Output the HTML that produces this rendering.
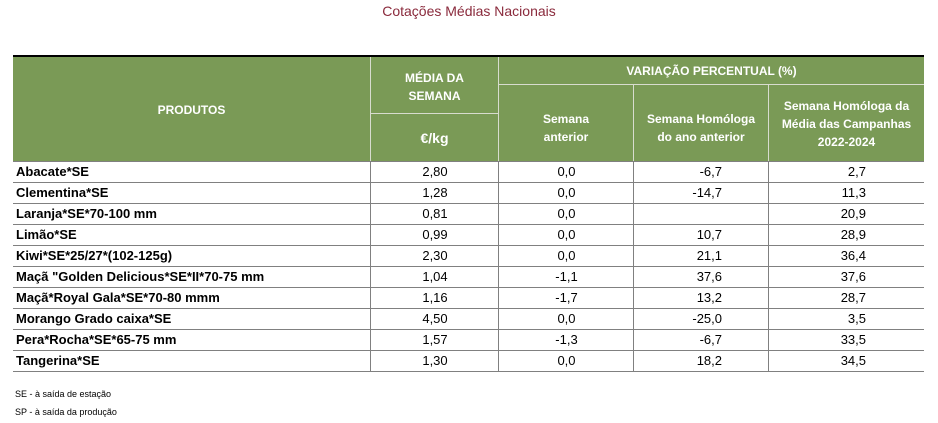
<!DOCTYPE html>
<html><head><meta charset="utf-8"><style>
body{margin:0;width:938px;height:423px;background:#fff;position:relative;overflow:hidden;font-family:"Liberation Sans",Arial,sans-serif}
.a{position:absolute}
.title{left:0;width:938px;top:3px;text-align:center;color:#8a2a3c;font-size:14px}
.hd{background:#7a9a56;color:#fff;font-weight:bold;font-size:12px;display:flex;align-items:center;justify-content:center;text-align:center;line-height:18px;box-sizing:border-box}
.vl{background:#d8dccf;width:1px}
.row{left:13px;width:911px;height:21px;border-bottom:1px solid #808080;box-sizing:border-box}
.c{position:absolute;top:0;height:20px;line-height:20px;font-size:13px;color:#000}
.lab{left:3px;font-weight:bold}
.c1{left:357px;width:128px;text-align:center;border-left:1px solid #808080}
.c2{left:485px;width:135px;text-align:center;border-left:1px solid #808080}
.c3{left:620px;width:135px;text-align:right;padding-right:46px;box-sizing:border-box;border-left:1px solid #808080}
.c4{left:755px;width:156px;text-align:right;padding-right:58px;box-sizing:border-box;border-left:1px solid #808080}
.fn{left:15px;font-size:9px;color:#000}
</style></head><body>
<div class="a title">Cotações Médias Nacionais</div>
<div class="a" style="left:13px;top:55px;width:911px;height:2px;background:#000"></div>
<div class="a hd" style="left:13px;top:57px;width:357px;height:105px">PRODUTOS</div>
<div class="a hd" style="left:371px;top:57px;width:127px;height:56px;padding-top:4px">MÉDIA DA<br>SEMANA</div>
<div class="a hd" style="left:371px;top:114px;width:127px;height:48px;font-size:14px">€/kg</div>
<div class="a hd" style="left:499px;top:57px;width:425px;height:27px">VARIAÇÃO PERCENTUAL (%)</div>
<div class="a hd" style="left:499px;top:85px;width:134px;height:77px;padding-top:8px">Semana<br>anterior</div>
<div class="a hd" style="left:634px;top:85px;width:134px;height:77px;padding-top:8px">Semana Homóloga<br>do ano anterior</div>
<div class="a hd" style="left:769px;top:85px;width:155px;height:77px">Semana Homóloga da<br>Média das Campanhas<br>2022-2024</div>
<div class="a" style="left:370px;top:57px;width:1px;height:105px;background:#d8dccf"></div>
<div class="a" style="left:498px;top:57px;width:1px;height:105px;background:#d8dccf"></div>
<div class="a" style="left:371px;top:113px;width:127px;height:1px;background:#d8dccf"></div>
<div class="a" style="left:499px;top:84px;width:425px;height:1px;background:#d8dccf"></div>
<div class="a" style="left:633px;top:85px;width:1px;height:77px;background:#d8dccf"></div>
<div class="a" style="left:768px;top:85px;width:1px;height:77px;background:#d8dccf"></div>
<div class="a" style="left:13px;top:161px;width:911px;height:1px;background:#808080"></div>
<div id="rows"></div>
<div class="a fn" style="top:389px">SE - à saída de estação</div>
<div class="a fn" style="top:407px">SP - à saída da produção</div>
<script>
const products=["Abacate*SE","Clementina*SE","Laranja*SE*70-100 mm","Limão*SE","Kiwi*SE*25/27*(102-125g)","Maçã \"Golden Delicious*SE*II*70-75 mm","Maçã*Royal Gala*SE*70-80 mmm","Morango Grado caixa*SE","Pera*Rocha*SE*65-75 mm","Tangerina*SE"];
const prices=["2,80","1,28","0,81","0,99","2,30","1,04","1,16","4,50","1,57","1,30"];
const varWeek=["0,0","0,0","0,0","0,0","0,0","-1,1","-1,7","0,0","-1,3","0,0"];
const varYear=["-6,7","-14,7","","10,7","21,1","37,6","13,2","-25,0","-6,7","18,2"];
const varCamp=["2,7","11,3","20,9","28,9","36,4","37,6","28,7","3,5","33,5","34,5"];
const host=document.getElementById('rows');
products.forEach((p,i)=>{
  const r=document.createElement('div');
  r.className='a row';r.style.top=(162+i*21)+'px';
  
  
  const cells=[['c lab',p],['c c1',prices[i]],['c c2',varWeek[i]],['c c3',varYear[i]],['c c4',varCamp[i]]];
  cells.forEach(([cl,t])=>{const d=document.createElement('div');d.className=cl;d.textContent=t;
    
    
    r.appendChild(d);});
  host.appendChild(r);
});
</script>
</body></html>
